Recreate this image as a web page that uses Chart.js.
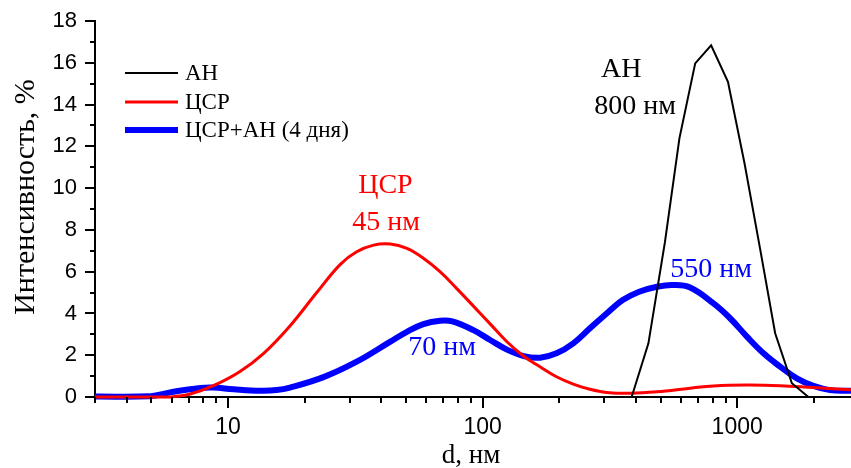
<!DOCTYPE html>
<html>
<head>
<meta charset="utf-8">
<script src="https://cdn.jsdelivr.net/npm/chart.js@4.4.1/dist/chart.umd.min.js"></script>
<style>
  html, body { margin: 0; padding: 0; background: #fff; }
  #wrap { width: 851px; height: 468px; }
</style>
</head>
<body>
<div id="wrap"><canvas id="chart" width="851" height="468"></canvas></div>
<script>
// АН
const anD = [385, 448, 520, 593, 684, 790, 920, 1069, 1230, 1410, 1640, 1905];
const anI = [0, 2.57, 7.4, 12.38, 15.97, 16.84, 15.09, 11.18, 7.1, 3.05, 0.66, 0];

// ЦСР
const csrD = [3, 5, 5.9, 7.1, 8.75, 11.1, 13.8, 17.5, 22.3, 27.6, 32, 37.3, 43.4, 50.4, 58.5, 68, 79, 92, 107, 124, 145, 168, 195, 227, 264, 307, 380, 484, 653, 807, 1092, 1475, 1993, 2800];
const csrI = [0, 0, 0, 0.14, 0.54, 1.21, 2.09, 3.4, 5.0, 6.35, 6.95, 7.27, 7.32, 7.11, 6.64, 6.0, 5.2, 4.35, 3.5, 2.67, 1.95, 1.45, 0.97, 0.62, 0.37, 0.22, 0.18, 0.25, 0.42, 0.53, 0.57, 0.54, 0.45, 0.35];

// ЦСР+АН (4 дня)
const mixD = [3, 4.9, 6.1, 7.8, 8.75, 10.5, 13.4, 15.5, 17.5, 23.7, 32, 43.4, 50.4, 58.5, 68, 76, 92, 107, 124, 145, 168, 195, 227, 264, 307, 355, 412, 484, 560, 653, 807, 938, 1092, 1269, 1475, 1715, 1993, 2317, 2800];
const mixI = [0.02, 0.03, 0.25, 0.43, 0.45, 0.37, 0.3, 0.33, 0.45, 0.95, 1.69, 2.65, 3.12, 3.49, 3.65, 3.62, 3.2, 2.73, 2.28, 1.96, 1.88, 2.09, 2.57, 3.29, 4.0, 4.64, 5.04, 5.28, 5.36, 5.24, 4.48, 3.77, 2.89, 2.09, 1.45, 0.89, 0.53, 0.33, 0.3];

const xLabels = [10, 100, 1000];

// подписи на поле графика (в координатах данных)
const notes = [
  { text: 'ЦСР', x: 41.5, y: 10.1, color: '#ff0000' },
  { text: '45 нм', x: 41.8, y: 8.37, color: '#ff0000' },
  { text: '70 нм', x: 69.3, y: 2.34, color: '#0000ff' },
  { text: '550 нм', x: 790, y: 6.12, color: '#0000ff' },
  { text: 'АН', x: 350, y: 15.65, color: '#000000' },
  { text: '800 нм', x: 397, y: 13.92, color: '#000000' }
];

const pts = (xs, ys) => xs.map((x, i) => ({ x: x, y: ys[i] }));

const serif = '"Liberation Serif", "Times New Roman", serif';

const decor = {
  id: 'decor',
  afterDraw(chart) {
    const ctx = chart.ctx, xs = chart.scales.x, ys = chart.scales.y, a = chart.chartArea;
    ctx.save();
    ctx.strokeStyle = '#000';
    ctx.lineWidth = 2;
    // x ticks
    xs.ticks.forEach(t => {
      const v = t.value;
      const p = Math.pow(10, Math.floor(Math.log10(v) + 1e-9));
      const m = v / p;
      if (Math.abs(m - Math.round(m)) > 1e-6) return;
      const major = Math.round(m) === 1;
      const px = Math.round(xs.getPixelForValue(v));
      ctx.beginPath();
      ctx.moveTo(px, a.bottom);
      ctx.lineTo(px, a.bottom + (major ? 11 : 6));
      ctx.stroke();
    });
    // y ticks
    for (let v = 0; v <= 18; v++) {
      const py = Math.round(ys.getPixelForValue(v));
      ctx.beginPath();
      ctx.moveTo(a.left, py);
      ctx.lineTo(a.left - (v % 2 === 0 ? 10 : 5), py);
      ctx.stroke();
    }

    // axis titles
    ctx.fillStyle = '#000';
    ctx.textAlign = 'center';
    ctx.textBaseline = 'middle';
    ctx.font = '27px ' + serif;
    ctx.fillText('d, нм', 471, 456);
    ctx.save();
    ctx.translate(26, 197);
    ctx.rotate(-Math.PI / 2);
    ctx.font = '30px ' + serif;
    ctx.fillText('Интенсивность, %', 0, 0);
    ctx.restore();

    // notes
    ctx.font = '28px ' + serif;
    notes.forEach(n => {
      ctx.fillStyle = n.color;
      ctx.fillText(n.text, xs.getPixelForValue(n.x), ys.getPixelForValue(n.y));
    });

    // legend
    ctx.font = '23px ' + serif;
    ctx.textAlign = 'left';
    const ly = [73, 102, 130];
    chart.data.datasets.forEach((ds, i) => {
      ctx.strokeStyle = ds.borderColor;
      ctx.lineWidth = ds.borderWidth;
      ctx.beginPath();
      ctx.moveTo(125, ly[i]);
      ctx.lineTo(178, ly[i]);
      ctx.stroke();
      ctx.fillStyle = '#000';
      ctx.fillText(ds.label, 185, ly[i] + 1);
    });
    ctx.restore();
  }
};

new Chart(document.getElementById('chart'), {
  type: 'line',
  data: {
    datasets: [
      { label: 'АН', data: pts(anD, anI), borderColor: '#000000', borderWidth: 2, tension: 0 },
      { label: 'ЦСР', data: pts(csrD, csrI), borderColor: '#ff0000', borderWidth: 3, tension: 0.4 },
      { label: 'ЦСР+АН (4 дня)', data: pts(mixD, mixI), borderColor: '#0000ff', borderWidth: 6, tension: 0.4 }
    ]
  },
  options: {
    responsive: false,
    animation: false,
    devicePixelRatio: 1,
    layout: { padding: { top: 21, right: 0, left: 0, bottom: 0 } },
    elements: { point: { radius: 0 } },
    datasets: { line: { clip: false } },
    plugins: { legend: { display: false }, tooltip: { enabled: false } },
    scales: {
      x: {
        type: 'logarithmic',
        min: 3,
        max: 2800,
        grid: { display: false },
        border: { display: true, color: '#000', width: 2 },
        afterFit: s => { s.height = 71; s.paddingLeft = 0; s.paddingRight = 0; },
        ticks: {
          autoSkip: false,
          maxRotation: 0,
          padding: 9,
          color: '#000',
          font: { family: '"Liberation Sans Narrow", "Liberation Sans", Arial, sans-serif', size: 23 },
          callback: v => xLabels.includes(v) ? String(v) : ''
        }
      },
      y: {
        min: 0,
        max: 18,
        grid: { display: false },
        border: { display: true, color: '#000', width: 2 },
        afterFit: s => { s.width = 95; s.paddingTop = 0; s.paddingBottom = 0; },
        ticks: {
          stepSize: 1,
          padding: 10,
          color: '#000',
          font: { family: '"Liberation Sans", Arial, sans-serif', size: 22 },
          callback: v => v % 2 === 0 ? String(v) : ''
        }
      }
    }
  },
  plugins: [decor]
});
</script>
</body>
</html>
